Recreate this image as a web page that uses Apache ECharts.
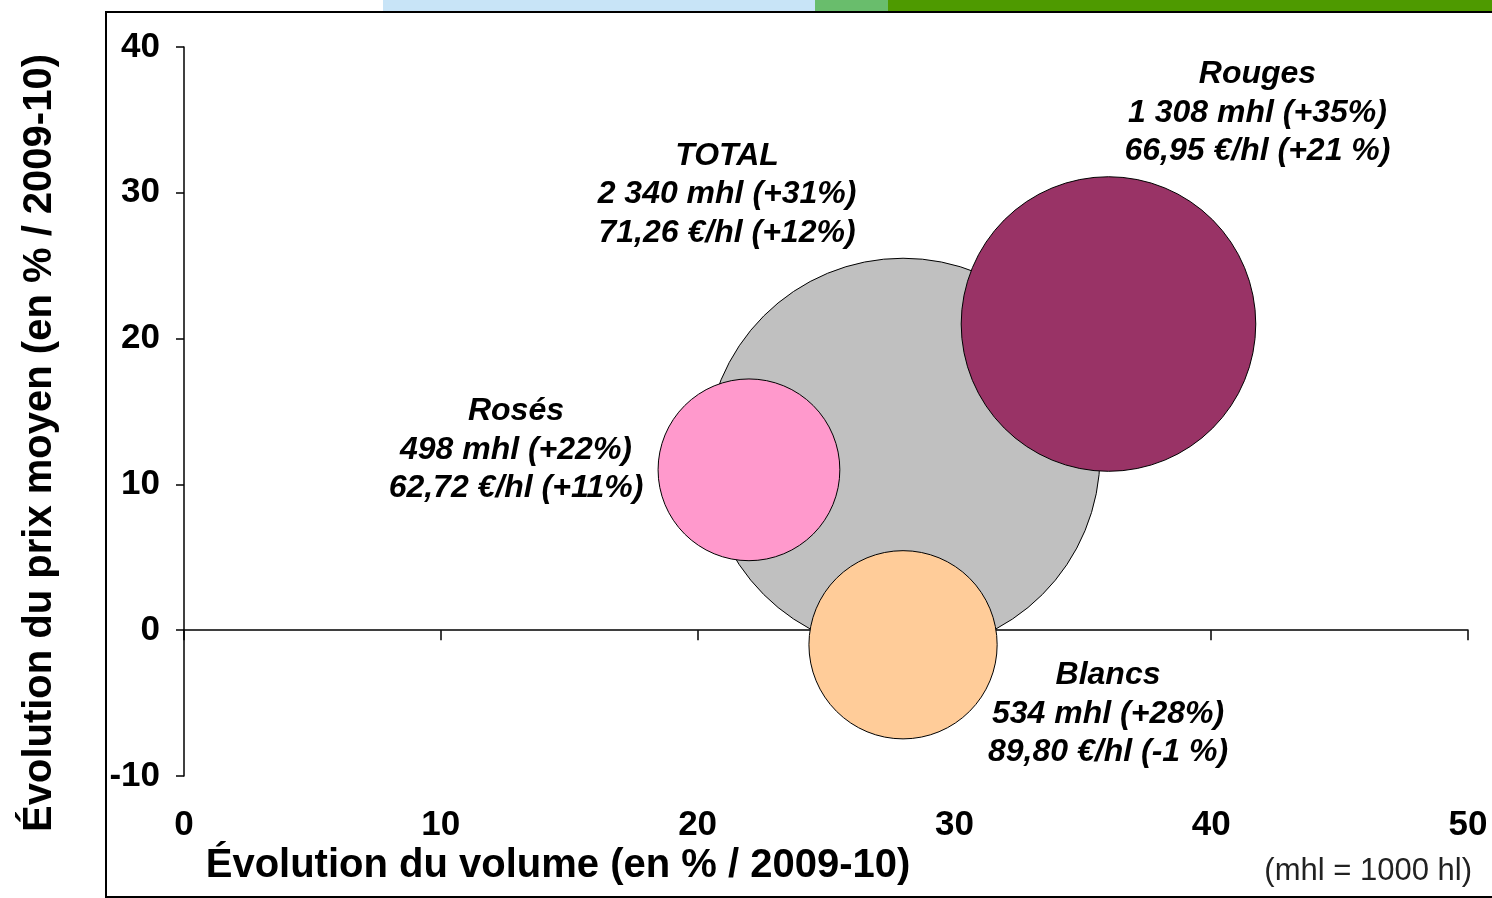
<!DOCTYPE html>
<html>
<head>
<meta charset="utf-8">
<script src="https://cdn.jsdelivr.net/npm/echarts@6/dist/echarts.min.js"></script>
<style>
  html, body { margin: 0; padding: 0; background: #fff; }
  #chart { width: 1492px; height: 898px; }
</style>
</head>
<body>
<div id="chart"></div>
<script>
// ---- data ----
const categories = ['TOTAL', 'Rosés', 'Rouges', 'Blancs'];
const volumeChange = [28, 22, 36, 28];        // x: évolution du volume (%)
const priceChange = [12, 11, 21, -1];         // y: évolution du prix moyen (%)
const volumesMhl = [2340, 498, 1308, 534];    // bubble size
const volumeText = ['2 340 mhl (+31%)', '498 mhl (+22%)', '1 308 mhl (+35%)', '534 mhl (+28%)'];
const priceText = ['71,26 €/hl (+12%)', '62,72 €/hl (+11%)', '66,95 €/hl (+21 %)', '89,80 €/hl (-1 %)'];
const xTicks = [0, 10, 20, 30, 40, 50];
const yTicks = [-10, 0, 10, 20, 30, 40];

// ---- styles ----
const colors = { 'TOTAL': '#C0C0C0', 'Rosés': '#FF99CC', 'Rouges': '#993366', 'Blancs': '#FFCC99' };
const labelOffsets = { 'TOTAL': [-176, -261], 'Rosés': [-233, -20], 'Rouges': [149, -211], 'Blancs': [205, 69] };
const FONT = '"Liberation Sans", Arial, sans-serif';
const maxDiameter = 394;
const maxVol = Math.max(...volumesMhl);

const series = categories.map((name, i) => ({
  type: 'scatter',
  name: name,
  z: 2 + i,
  symbol: 'circle',
  symbolSize: (val) => maxDiameter * Math.sqrt(val[2] / maxVol),
  data: [[volumeChange[i], priceChange[i], volumesMhl[i]]],
  itemStyle: { color: colors[name], borderColor: '#000', borderWidth: 1, opacity: 1 },
  emphasis: { disabled: true },
  label: {
    show: true,
    position: 'inside',
    offset: labelOffsets[name],
    formatter: name + '\n' + volumeText[i] + '\n' + priceText[i],
    fontFamily: FONT,
    fontSize: 32,
    fontWeight: 'bold',
    fontStyle: 'italic',
    color: '#000',
    lineHeight: 38.5,
    align: 'center',
    verticalAlign: 'middle'
  }
}));

const chart = echarts.init(document.getElementById('chart'), null, { renderer: 'canvas' });
chart.setOption({
  animation: false,
  backgroundColor: '#fff',
  grid: { left: 184, right: 24, top: 47, bottom: 122, containLabel: false },
  xAxis: [
    {
      type: 'value', min: xTicks[0], max: xTicks[xTicks.length - 1], interval: 10,
      axisLine: { show: true, onZero: true, lineStyle: { color: '#000', width: 1.5 } },
      axisTick: { show: true, inside: false, length: 10, lineStyle: { color: '#000', width: 1.5 } },
      axisLabel: { show: false },
      splitLine: { show: false }
    },
    {
      type: 'value', position: 'bottom', min: xTicks[0], max: xTicks[xTicks.length - 1], interval: 10,
      axisLine: { show: false, onZero: false },
      axisTick: { show: false },
      axisLabel: { show: true, margin: 32, fontFamily: FONT, fontSize: 35, fontWeight: 'bold', color: '#000' },
      splitLine: { show: false }
    }
  ],
  yAxis: {
    type: 'value', min: yTicks[0], max: yTicks[yTicks.length - 1], interval: 10,
    axisLine: { show: true, onZero: false, lineStyle: { color: '#000', width: 1.5 } },
    axisTick: { show: true, inside: false, length: 8, lineStyle: { color: '#000', width: 1.5 } },
    axisLabel: { show: true, margin: 24, fontFamily: FONT, fontSize: 35, fontWeight: 'bold', color: '#000' },
    splitLine: { show: false }
  },
  series: series,
  graphic: [
    { type: 'rect', z: 100, shape: { x: 383, y: 0, width: 432, height: 11 }, style: { fill: '#C8E4F7' } },
    { type: 'rect', z: 100, shape: { x: 815, y: 0, width: 73, height: 11 }, style: { fill: '#69BD6C' } },
    { type: 'rect', z: 100, shape: { x: 888, y: 0, width: 604, height: 11 }, style: { fill: '#4E9A00' } },
    { type: 'rect', z: 101, shape: { x: 106, y: 12, width: 1390, height: 885 }, style: { fill: 'none', stroke: '#000', lineWidth: 2 } },
    { type: 'text', z: 101, x: 558, y: 866, style: { text: 'Évolution du volume (en % / 2009-10)', font: 'bold 40px ' + FONT, fill: '#000', align: 'center', verticalAlign: 'middle' } },
    { type: 'text', z: 101, x: 40, y: 443, rotation: Math.PI / 2, style: { text: 'Évolution du prix moyen (en % / 2009-10)', font: 'bold 40px ' + FONT, fill: '#000', align: 'center', verticalAlign: 'middle' } },
    { type: 'text', z: 101, x: 1472, y: 871, style: { text: '(mhl = 1000 hl)', font: '31px ' + FONT, fill: '#222', align: 'right', verticalAlign: 'middle' } }
  ]
});
</script>
</body>
</html>
